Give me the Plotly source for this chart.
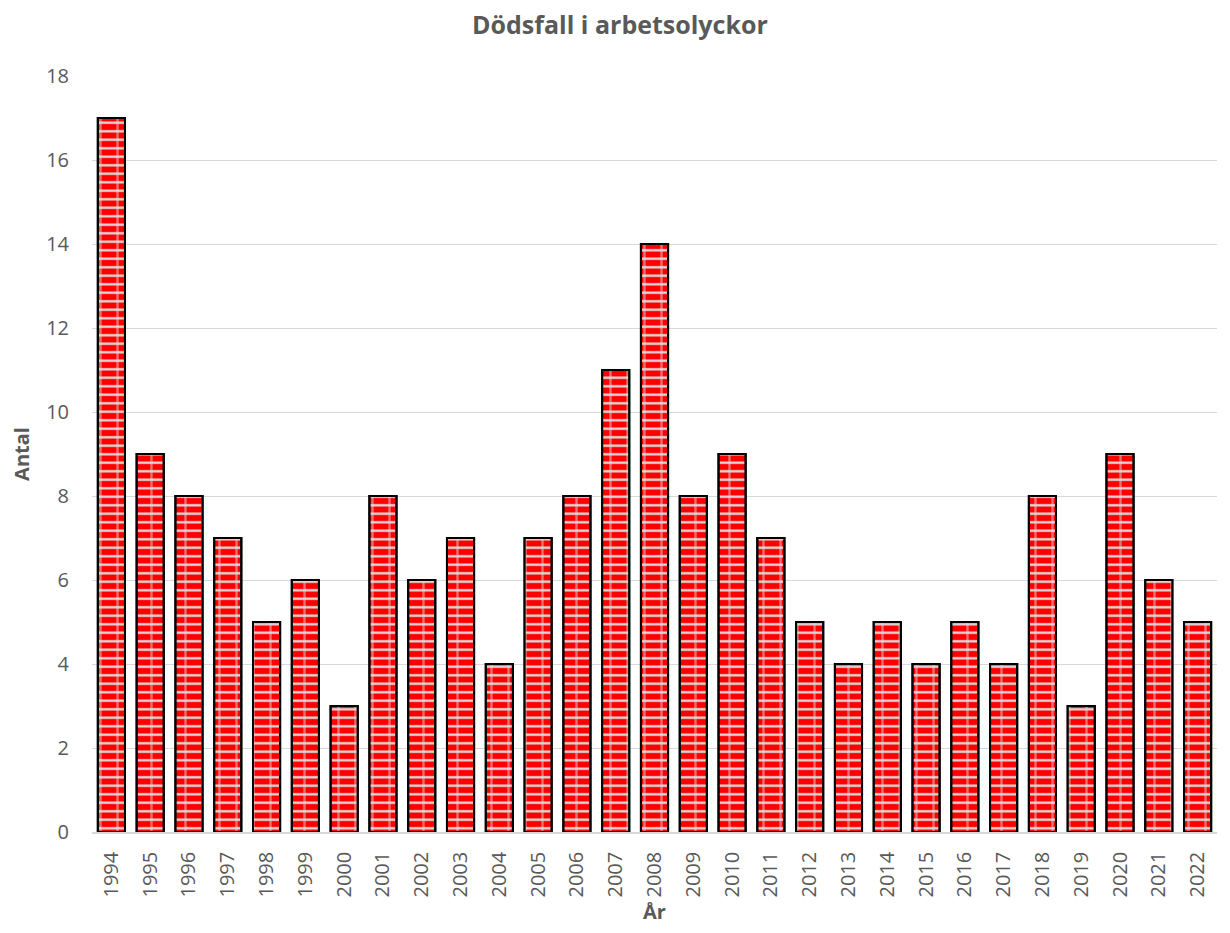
import plotly.graph_objects as go

years = [str(y) for y in range(1994, 2023)]
deaths = [17, 9, 8, 7, 5, 6, 3, 8, 6, 7, 4, 7, 8, 11, 14, 8, 9, 7, 5, 4, 5, 4, 5, 4, 8, 3, 9, 6, 5]

font = "Open Sans, Liberation Sans, sans-serif"
grey = "#595959"
mortar = "#dcdcdc"

fig = go.Figure()
# brick rows (horizontal mortar)
fig.add_trace(go.Bar(
    x=years, y=deaths,
    marker=dict(
        color="#ff0000",
        line=dict(color="black", width=2),
        pattern=dict(shape="-", fgcolor=mortar, bgcolor="#ff0000", size=8.5, solidity=0.28, fillmode="replace"),
    ),
    hoverinfo="skip",
))
# vertical joints
fig.add_trace(go.Bar(
    x=years, y=deaths,
    marker=dict(
        color="rgba(0,0,0,0)",
        line=dict(color="black", width=2),
        pattern=dict(shape="|", fgcolor=mortar, bgcolor="rgba(0,0,0,0)", size=17, solidity=0.14, fillmode="overlay"),
    ),
))

fig.update_layout(
    width=1230, height=933,
    margin=dict(l=84, r=21, t=68, b=109),
    plot_bgcolor="white", paper_bgcolor="white",
    barmode="overlay",
    bargap=0.3,
    showlegend=False,
    title=dict(text="<b>Dödsfall i arbetsolyckor</b>", x=0.4975, xanchor="center", y=0.981, yanchor="middle",
               font=dict(family=font, size=25, color=grey)),
    font=dict(family=font, color=grey, size=20),
)
fig.update_xaxes(
    type="category", tickangle=-90, tickfont=dict(size=20, color=grey),
    showline=True, linecolor="#d9d9d9", linewidth=1.5, ticks="", ticklabelstandoff=10,
    title=dict(text="<b>År</b>", font=dict(size=20, color=grey), standoff=6),
)
fig.update_yaxes(
    range=[0, 18], dtick=2, showgrid=True, gridcolor="#d9d9d9", gridwidth=1,
    zeroline=False, tickfont=dict(size=20, color=grey), ticklabelstandoff=22,
    title=dict(text="<b>Antal</b>", font=dict(size=20, color=grey), standoff=13),
)

fig.write_html("out.html")
